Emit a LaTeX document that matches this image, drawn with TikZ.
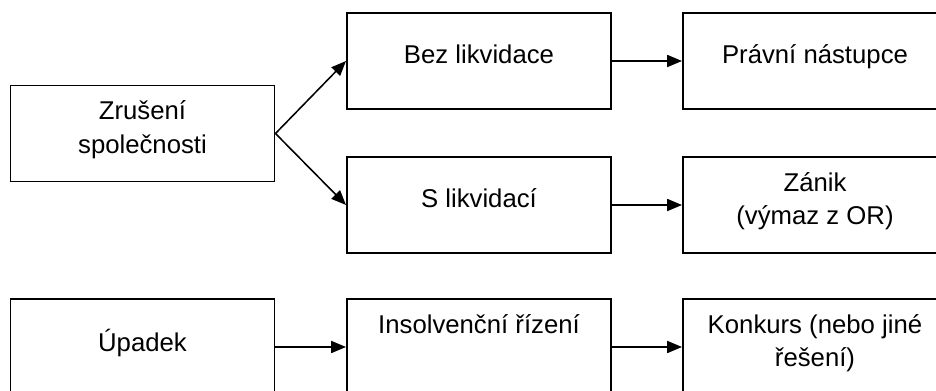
\documentclass[tikz,border=0pt]{standalone}
\usepackage{fontspec}
\setmainfont{Liberation Sans}
\usetikzlibrary{arrows.meta}

\newcommand{\boxstrut}{\rule[-0.325cm]{0pt}{0.775cm}}
\tikzset{
  stage/.style = {draw, line width = 1.4pt, minimum width = 6.6cm,
    minimum height = 2.4cm, align = center,
    font = \fontsize{18.3pt}{22pt}\selectfont},
  flow/.style = {line width = 1.1pt, -{Triangle[length = 0.37cm, width = 0.3cm]}}
}

\begin{document}
\begin{tikzpicture}
\useasboundingbox (0, 0) rectangle (23.4, 9.75);
\clip (0, 0) rectangle (23.4, 9.75);

\node[stage] (zruseni) at (3.5625, 6.4125) {\boxstrut Zrušení\\\boxstrut společnosti};
\node[stage] (bezlikv) at (11.975, 8.225) {\boxstrut Bez likvidace};
\node[stage] (nastupce) at (20.375, 8.225) {\boxstrut Právní nástupce};
\node[stage] (slikv) at (11.975, 4.625) {\boxstrut S likvidací};
\node[stage] (zanik) at (20.375, 4.625) {\boxstrut Zánik\\\boxstrut (výmaz z OR)};

% insolvence
\node[stage] (upadek) at (3.5625, 1.075) {\boxstrut Úpadek};
\node[stage] (insolv) at (11.975, 1.075) {\boxstrut Insolvenční řízení\\\boxstrut};
\node[stage] (konkurs) at (20.375, 1.075) {\boxstrut Konkurs (nebo jiné\\\boxstrut řešení)};

\draw[flow] (zruseni.east) -- (bezlikv.west);
\draw[flow] (zruseni.east) -- (slikv.west);
\draw[flow] (bezlikv) -- (nastupce);
\draw[flow] (slikv) -- (zanik);
\draw[flow] (upadek) -- (insolv);
\draw[flow] (insolv) -- (konkurs);
\end{tikzpicture}
\end{document}
